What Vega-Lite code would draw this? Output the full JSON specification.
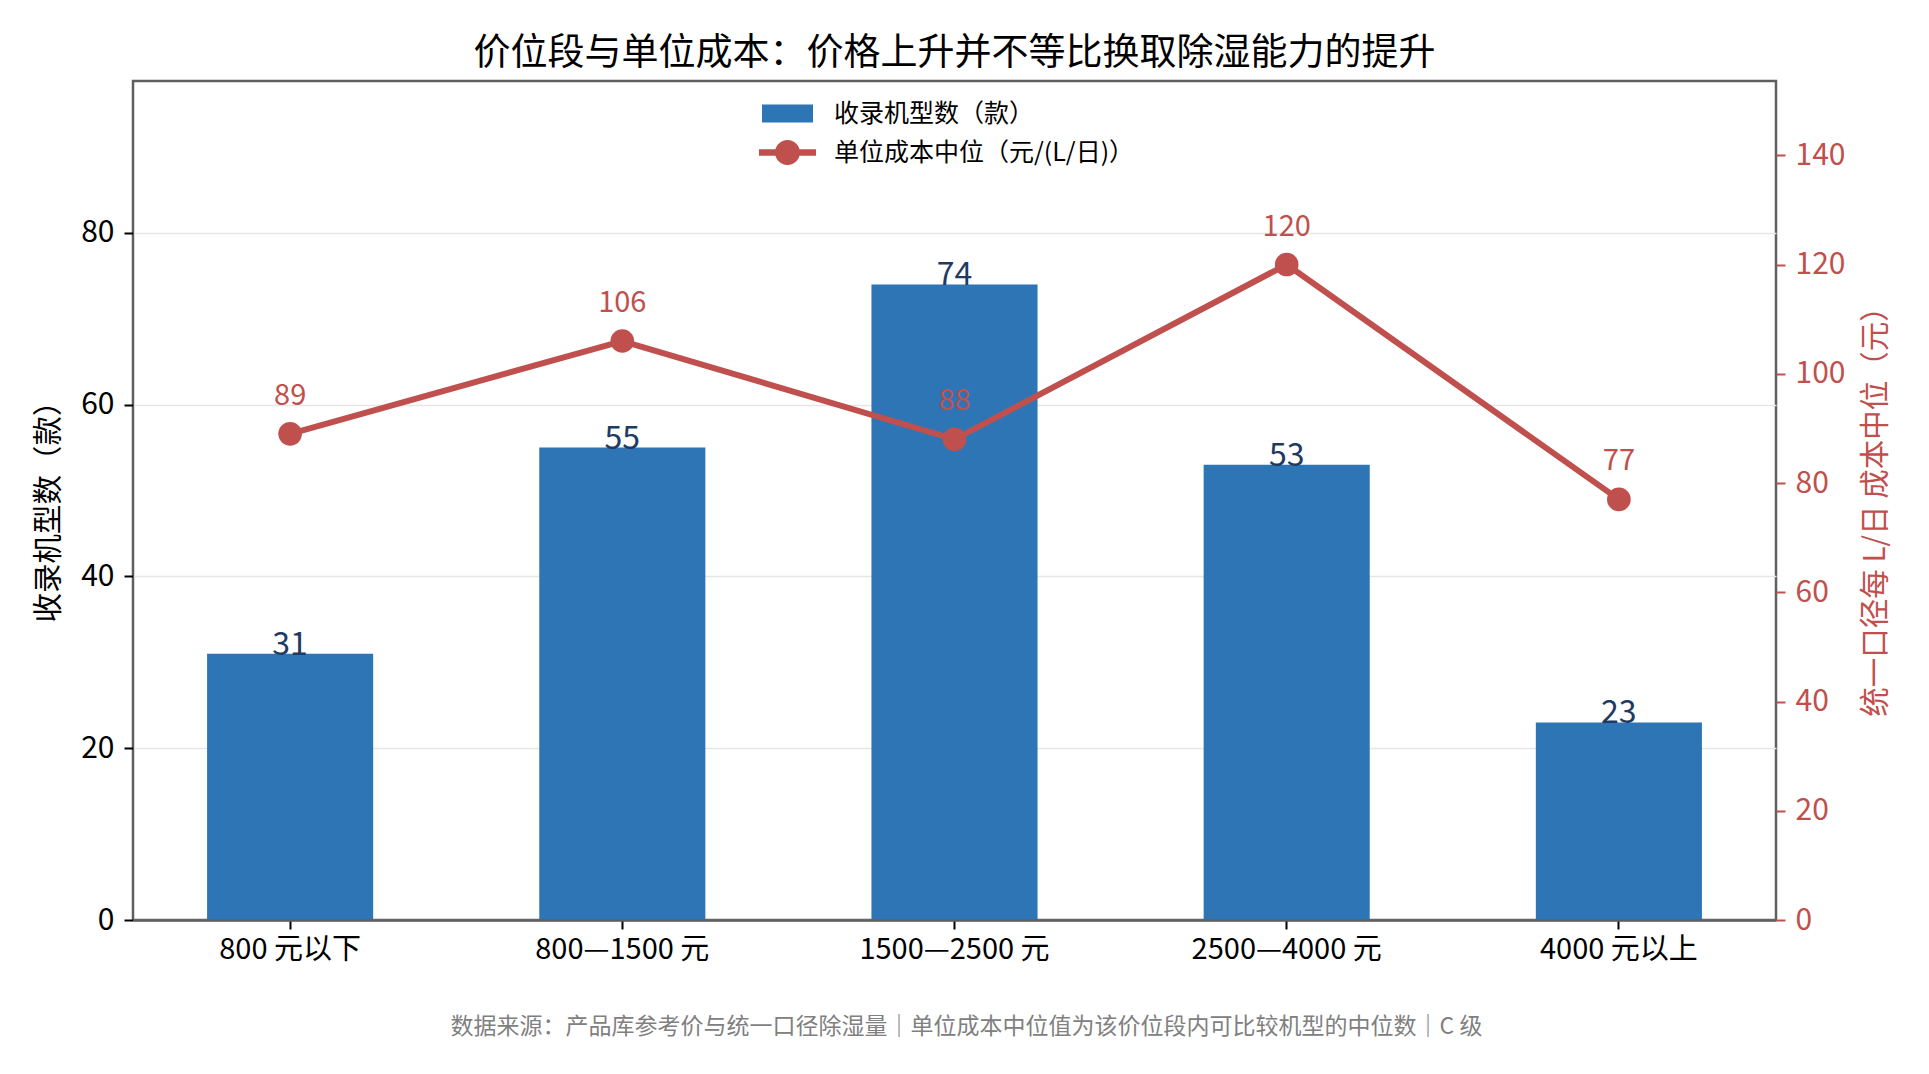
{
  "$schema": "https://vega.github.io/schema/vega-lite/v6.json",
  "width": 1643,
  "height": 839,
  "autosize": "none",
  "padding": {"left": 133, "top": 81, "right": 153, "bottom": 154},
  "background": "white",
  "config": {
    "font": "Noto Sans CJK SC",
    "view": {"stroke": "#5f5f5f", "strokeWidth": 2.5},
    "axis": {"labelFont": "Noto Sans CJK SC", "titleFont": "Noto Sans CJK SC", "titleFontWeight": "normal"}
  },
  "title": {
    "text": "价位段与单位成本：价格上升并不等比换取除湿能力的提升",
    "fontSize": 37,
    "fontWeight": "normal",
    "color": "#000000",
    "anchor": "middle",
    "offset": 8
  },
  "data": {
    "values": [
      {"band": "800 元以下", "count": 31, "cost": 89},
      {"band": "800—1500 元", "count": 55, "cost": 106},
      {"band": "1500—2500 元", "count": 74, "cost": 88},
      {"band": "2500—4000 元", "count": 53, "cost": 120},
      {"band": "4000 元以上", "count": 23, "cost": 77}
    ]
  },
  "encoding": {
    "x": {
      "field": "band",
      "type": "nominal",
      "sort": null,
      "scale": {"paddingInner": 0.5, "paddingOuter": 0.223},
      "axis": {
        "labelAngle": 0,
        "labelFontSize": 29,
        "labelLimit": 500,
        "labelColor": "#000000",
        "labelPadding": 6,
        "tickColor": "#000000",
        "tickSize": 9,
        "tickWidth": 2,
        "domainColor": "#5f5f5f",
        "domainWidth": 2.5,
        "zindex": 1,
        "title": "数据来源：产品库参考价与统一口径除湿量｜单位成本中位值为该价位段内可比较机型的中位数｜C 级",
        "titleFontSize": 23,
        "titleLimit": 1800,
        "titleColor": "#808080",
        "titleBaseline": "middle",
        "titleX": 833,
        "titleY": 106
      }
    }
  },
  "layer": [
    {
      "encoding": {
        "y": {
          "field": "count",
          "type": "quantitative",
          "scale": {"domain": [0, 97.68], "nice": false, "zero": true},
          "axis": {
            "orient": "left",
            "values": [0, 20, 40, 60, 80],
            "labelFontSize": 30,
            "labelColor": "#000000",
            "labelPadding": 10,
            "tickColor": "#000000",
            "tickSize": 9,
            "tickWidth": 2,
            "domain": false,
            "grid": true,
            "gridColor": "#e6e6e6",
            "gridWidth": 1.5,
            "title": "收录机型数（款）",
            "titleFontSize": 29.5,
            "titleColor": "#000000",
            "titleAngle": 270,
            "titleBaseline": "middle",
            "titleAlign": "center",
            "titleX": -85,
            "titleY": 423
          }
        }
      },
      "layer": [
        {"mark": {"type": "bar", "color": "#2e75b6"}},
        {
          "mark": {"type": "text", "baseline": "alphabetic", "dy": 1, "fontSize": 32, "color": "#1f3b63"},
          "encoding": {"text": {"field": "count", "type": "quantitative"}}
        }
      ]
    },
    {
      "encoding": {
        "y": {
          "field": "cost",
          "type": "quantitative",
          "scale": {"domain": [0, 153.6], "nice": false, "zero": true},
          "axis": {
            "orient": "right",
            "values": [0, 20, 40, 60, 80, 100, 120, 140],
            "labelFontSize": 30,
            "labelColor": "#c0504d",
            "labelPadding": 10,
            "tickColor": "#c0504d",
            "tickSize": 9,
            "tickWidth": 2,
            "domain": false,
            "grid": false,
            "title": "统一口径每 L/日 成本中位（元）",
            "titleFontSize": 29.5,
            "titleColor": "#c0504d",
            "titleAngle": 270,
            "titleBaseline": "middle",
            "titleAlign": "center",
            "titleX": 99,
            "titleY": 423
          }
        }
      },
      "layer": [
        {"mark": {"type": "line", "color": "#c0504d", "strokeWidth": 6}},
        {"mark": {"type": "point", "filled": true, "color": "#c0504d", "size": 560, "opacity": 1}},
        {
          "mark": {"type": "text", "baseline": "alphabetic", "dy": -29, "fontSize": 29, "color": "#c0504d"},
          "encoding": {"text": {"field": "cost", "type": "quantitative"}}
        }
      ]
    },
    {
      "data": {
        "values": [
          {"series": "收录机型数（款）"},
          {"series": "单位成本中位（元/(L/日)）"}
        ]
      },
      "mark": {"type": "point", "filled": true, "opacity": 0, "strokeWidth": 0},
      "encoding": {
        "x": {"value": 0},
        "color": {
          "field": "series",
          "type": "nominal",
          "scale": {
            "domain": ["收录机型数（款）", "单位成本中位（元/(L/日)）"],
            "range": ["#2e75b6", "#c0504d"]
          },
          "legend": {
            "orient": "none",
            "legendX": 642,
            "legendY": 20,
            "title": null,
            "padding": 0,
            "symbolSize": 625,
            "symbolOpacity": 1,
            "symbolStrokeWidth": 0,
            "labelFontSize": 25,
            "labelLimit": 600,
            "labelColor": "#000000",
            "labelFont": "Noto Sans CJK SC",
            "labelOffset": 34,
            "rowPadding": 13
          }
        },
        "shape": {
          "field": "series",
          "type": "nominal",
          "scale": {
            "domain": ["收录机型数（款）", "单位成本中位（元/(L/日)）"],
            "range": [
              "M-2.04,-0.72H2.04V0.72H-2.04Z",
              "M-2.28,-0.26H-0.97V0.26H-2.28Z M0.97,-0.26H2.28V0.26H0.97Z M1,0A1,1 0 1,1 -1,0A1,1 0 1,1 1,0Z"
            ]
          },
          "legend": {
            "orient": "none",
            "legendX": 642,
            "legendY": 20,
            "title": null,
            "padding": 0,
            "symbolSize": 625,
            "symbolOpacity": 1,
            "symbolStrokeWidth": 0,
            "labelFontSize": 25,
            "labelLimit": 600,
            "labelColor": "#000000",
            "labelFont": "Noto Sans CJK SC",
            "labelOffset": 34,
            "rowPadding": 13
          }
        }
      }
    }
  ],
  "resolve": {"scale": {"y": "independent"}}
}
